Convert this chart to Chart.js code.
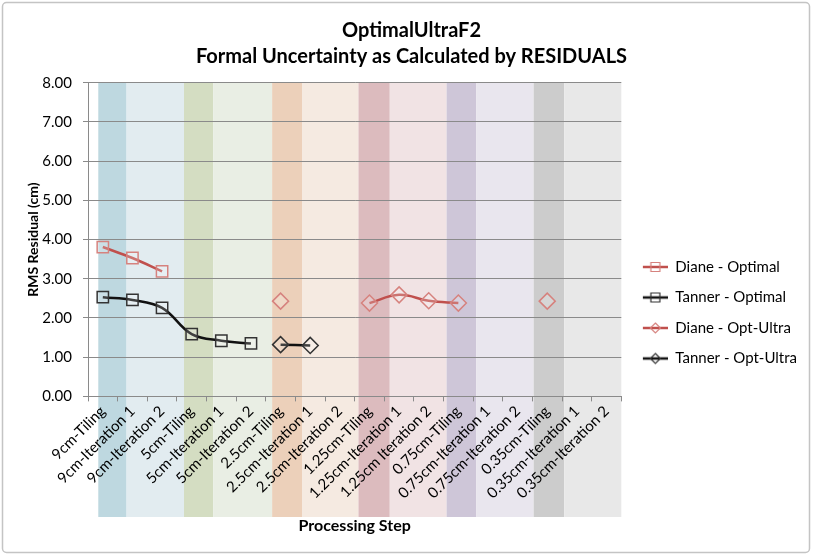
<!DOCTYPE html>
<html>
<head>
<meta charset="utf-8">
<script src="https://cdn.jsdelivr.net/npm/chart.js@4.4.0/dist/chart.umd.min.js"></script>
<style>
  html, body { margin: 0; padding: 0; background: #fff; }
  #wrap { position: relative; width: 815px; height: 555px; }
</style>
</head>
<body>
<div id="wrap"><canvas id="chart"></canvas></div>
<script>
// categories along the x axis
var steps = ['9cm-Tiling', '9cm-Iteration 1', '9cm-Iteration 2',
             '5cm-Tiling', '5cm-Iteration 1', '5cm-Iteration 2',
             '2.5cm-Tiling', '2.5cm-Iteration 1', '2.5cm-Iteration 2',
             '1.25cm-Tiling', '1.25cm-Iteration 1', '1.25cm Iteration 2',
             '0.75cm-Tiling', '0.75cm-Iteration 1', '0.75cm-Iteration 2',
             '0.35cm-Tiling', '0.35cm-Iteration 1', '0.35cm-Iteration 2'];

// RMS residual (cm) per step
var dianeOptimal   = [3.81, 3.53, 3.19, null, null, null, null, null, null, null, null, null, null, null, null, null, null, null];
var tannerOptimal  = [2.53, 2.46, 2.26, 1.59, 1.42, 1.35, null, null, null, null, null, null, null, null, null, null, null, null];
var dianeOptUltra  = [null, null, null, null, null, null, 2.43, null, null, 2.38, 2.59, 2.44, 2.38, null, null, 2.43, null, null];
var tannerOptUltra = [null, null, null, null, null, null, 1.32, 1.30, null, null, null, null, null, null, null, null, null, null];

// y ticks
var yMin = 0, yMax = 8, yStep = 1;

// background colour bands (in category units) behind the plot
var bandEdges = [-0.153, 0.802, 2.740, 3.729, 5.715, 6.724, 8.629, 9.685, 11.603, 12.599, 14.541, 15.573, 17.5];
var bandColors = ['#bed8e0', '#e2ecf0', '#d4ddc2', '#e9eee4', '#ecd0ba', '#f5eae1',
                  '#dcbbbe', '#f1e3e4', '#cec6d8', '#e9e6ee', '#cccccc', '#e8e8e8'];

var FONT = 'Lato, Calibri, sans-serif';
var RED = '#c0504d', RED_MARK = '#d6827e', BLACK = '#111111', BLACK_MARK = '#333333';

function legendIcon(lineColor, markColor, shape) {
  var c = document.createElement('canvas');
  c.width = 31; c.height = 14;
  var g = c.getContext('2d');
  g.strokeStyle = lineColor; g.lineWidth = 2.5;
  g.beginPath(); g.moveTo(6, 7); g.lineTo(31, 7); g.stroke();
  g.strokeStyle = markColor; g.lineWidth = 1.2;
  g.beginPath();
  if (shape === 'rect') {
    g.rect(14, 2.5, 9, 9);
  } else {
    g.moveTo(18.5, 2); g.lineTo(23.5, 7); g.lineTo(18.5, 12); g.lineTo(13.5, 7); g.closePath();
  }
  g.stroke();
  return c;
}
var icons = [legendIcon(RED, RED_MARK, 'rect'), legendIcon(BLACK, BLACK_MARK, 'rect'),
             legendIcon(RED, RED_MARK, 'diamond'), legendIcon(BLACK, BLACK_MARK, 'diamond')];

var bandPlugin = {
  id: 'bands',
  beforeDraw: function(chart) {
    var ctx = chart.ctx, x = chart.scales.x, area = chart.chartArea;
    ctx.save();
    ctx.fillStyle = '#fff';
    ctx.fillRect(0, 0, chart.width, chart.height);
    for (var i = 0; i < bandColors.length; i++) {
      var x0 = x.getPixelForValue(bandEdges[i]);
      var x1 = x.getPixelForValue(bandEdges[i + 1]);
      ctx.fillStyle = bandColors[i];
      ctx.fillRect(x0, area.top, x1 - x0, 517 - area.top);
    }
    ctx.restore();
  },
  afterDraw: function(chart) {
    var ctx = chart.ctx;
    ctx.save();
    ctx.strokeStyle = '#c4c4c4';
    ctx.lineWidth = 1.5;
    ctx.beginPath();
    ctx.roundRect(2.5, 2.5, 807, 550, 4);
    ctx.stroke();
    ctx.restore();
  }
};

function series(label, data, line, mark, shape) {
  return {
    label: label,
    data: data,
    borderColor: line,
    borderWidth: 2.5,
    pointStyle: shape,
    pointRadius: 8,
    pointHoverRadius: 8,
    pointBorderColor: mark,
    pointBorderWidth: 1.5,
    pointBackgroundColor: 'rgba(255,255,255,0.2)',
    tension: 0.4,
    spanGaps: false
  };
}

var ctx = document.getElementById('chart').getContext('2d');
var myChart = new Chart(ctx, {
  type: 'line',
  data: {
    labels: steps,
    datasets: [
      series('Diane - Optimal', dianeOptimal, RED, RED_MARK, 'rect'),
      series('Tanner - Optimal', tannerOptimal, BLACK, BLACK_MARK, 'rect'),
      series('Diane - Opt-Ultra', dianeOptUltra, RED, RED_MARK, 'rectRot'),
      series('Tanner - Opt-Ultra', tannerOptUltra, BLACK, BLACK_MARK, 'rectRot')
    ]
  },
  options: {
    responsive: true,
    maintainAspectRatio: false,
    animation: false,
    layout: { padding: { left: 16, right: 8, top: 4, bottom: 20 } },
    plugins: {
      title: {
        display: true,
        text: ['OptimalUltraF2', 'Formal Uncertainty as Calculated by RESIDUALS'],
        color: '#000',
        font: { family: FONT, size: 20, weight: 'bold', lineHeight: 1.32 },
        padding: { top: 13, bottom: 13 }
      },
      legend: {
        position: 'right',
        align: 'center',
        title: { display: true, text: '', padding: { top: 72 } },
        labels: {
          usePointStyle: true,
          pointStyleWidth: 31,
          padding: 15.5,
          color: '#000',
          font: { family: FONT, size: 15 },
          generateLabels: function(chart) {
            var items = Chart.defaults.plugins.legend.labels.generateLabels(chart);
            items.forEach(function(it, i) { it.pointStyle = icons[i]; });
            return items;
          }
        }
      },
      tooltip: { enabled: false }
    },
    scales: {
      x: {
        offset: true,
        afterFit: function(scale) { scale.paddingLeft = 0; },
        grid: { offset: true, drawOnChartArea: false, drawTicks: true, tickLength: 5, color: '#8a8a8a' },
        border: { color: '#8a8a8a' },
        ticks: {
          autoSkip: false, maxRotation: 45, minRotation: 45,
          color: '#000', font: { family: FONT, size: 15 }, padding: 1
        },
        title: {
          display: true, text: 'Processing Step', color: '#000',
          font: { family: FONT, size: 16, weight: 'bold' }, padding: { top: 12.5, bottom: 0 }
        }
      },
      y: {
        min: yMin, max: yMax,
        afterFit: function(scale) { scale.width = 72; },
        grid: { color: '#8a8a8a', tickLength: 5 },
        border: { color: '#8a8a8a' },
        ticks: {
          stepSize: yStep, color: '#000', font: { family: FONT, size: 15 }, padding: 11,
          callback: function(v) { return v.toFixed(2); }
        },
        title: {
          display: true, text: 'RMS Residual (cm)', color: '#000',
          font: { family: FONT, size: 14, weight: 'bold' }, padding: { top: 9, bottom: 0 }
        }
      }
    }
  },
  plugins: [bandPlugin]
});
</script>
</body>
</html>
